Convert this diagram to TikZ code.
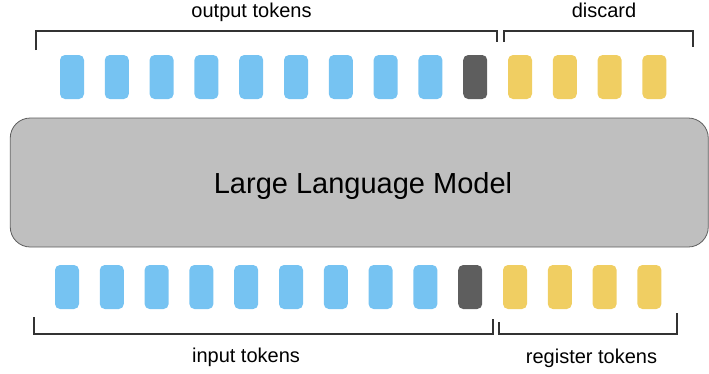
\documentclass[tikz,border=0pt]{standalone}
\usepackage{fontspec}
\setmainfont{Liberation Sans}
\definecolor{tokblue}{RGB}{118, 195, 242}
\definecolor{tokyellow}{RGB}{240, 206, 98}
\definecolor{tokdark}{RGB}{94, 94, 94}
\definecolor{llmgray}{RGB}{191, 191, 191}
\definecolor{linegray}{RGB}{51, 51, 51}
\usetikzlibrary{positioning}

\begin{document}
\begin{tikzpicture}[x=1pt, y=-1pt,
  token/.style={rounded corners=5pt, minimum width=24pt, minimum height=44pt, inner sep=0pt},
  brack/.style={linegray, line width=1.4pt},
  lbl/.style={font=\fontsize{20}{24}\selectfont, anchor=base, inner sep=0pt}]
  \useasboundingbox (0,0) rectangle (709,373);

  % Model
  \node[draw=tokdark, fill=llmgray, line width=0.8pt, rounded corners=20pt,
        minimum width=698pt, minimum height=129pt] (llm) at (359.25, 182.5) {};
  \node[font=\fontsize{29}{34}\selectfont, anchor=base, inner sep=0pt] (llmlabel) at (363, 193) {Large Language Model};

  % Output tokens
  \foreach \k in {0,...,8}
    \node[token, fill=tokblue] (out\k) at ({72+44.8*\k}, 77) {};
  \node[token, fill=tokdark] (out9) at ({72+44.8*9}, 77) {};
  \foreach \k in {10,...,13}
    \node[token, fill=tokyellow] (out\k) at ({72+44.8*\k}, 77) {};

  % Input tokens
  \foreach \k in {0,...,8}
    \node[token, fill=tokblue] (in\k) at ({67+44.8*\k}, 287) {};
  \node[token, fill=tokdark] (in9) at ({67+44.8*9}, 287) {};
  \foreach \k in {10,...,13}
    \node[token, fill=tokyellow] (in\k) at ({67+44.8*\k}, 287) {};

  % Brackets
  \draw[brack] (36, 50) -- (36, 31) -- (497, 31) -- (497, 42);
  \draw[brack] (504, 42) -- (504, 31) -- (693, 31) -- (693, 47);
  \draw[brack] (34, 317) -- (34, 334) -- (493, 334) -- (493, 319);
  \draw[brack] (499, 322) -- (499, 334) -- (677, 334) -- (677, 313);

  % Labels
  \node[lbl] (outlabel) at (251.5, 17) {output tokens};
  \node[lbl] (disclabel) at (604, 17) {discard};
  \node[lbl] (inlabel) at (246, 362) {input tokens};
  \node[lbl] (reglabel) at (591.5, 363) {register tokens};
\end{tikzpicture}
\end{document}
